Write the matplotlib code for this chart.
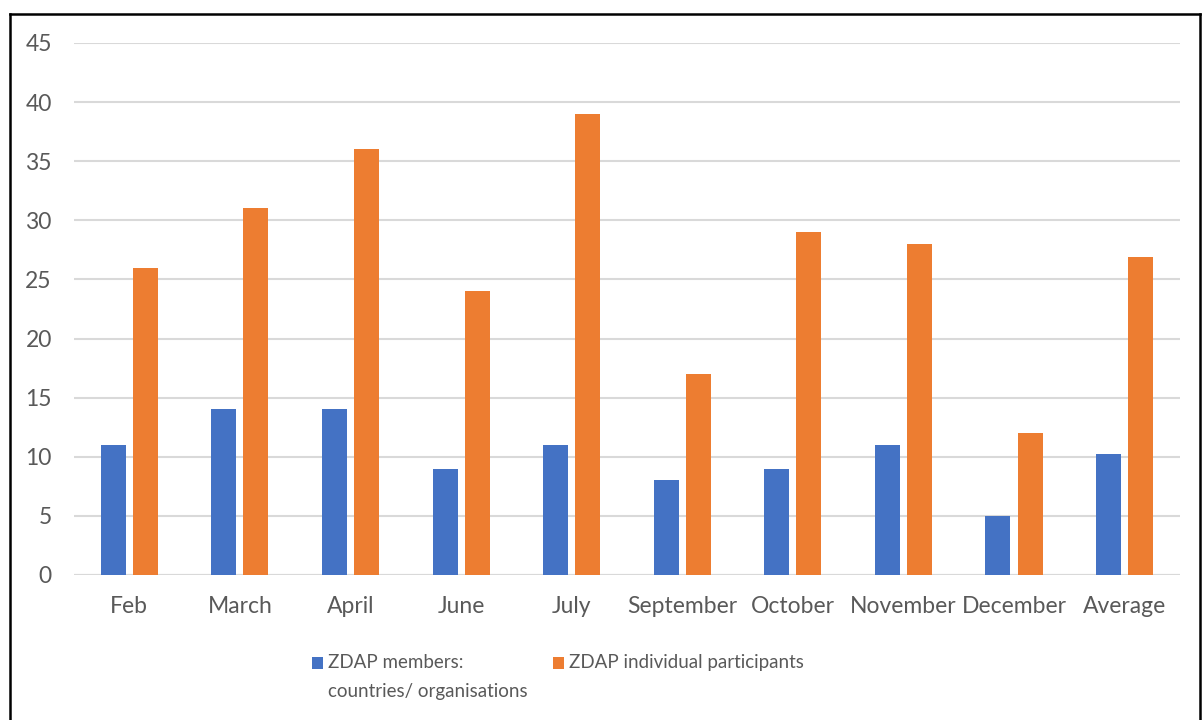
import numpy as np
import matplotlib.pyplot as plt
from matplotlib.lines import Line2D

months = ["Feb", "March", "April", "June", "July", "September",
          "October", "November", "December", "Average"]
members = [11, 14, 14, 9, 11, 8, 9, 11, 5, 10.2]
participants = [26, 31, 36, 24, 39, 17, 29, 28, 12, 26.9]

plt.rcParams['font.family'] = ['Lato', 'DejaVu Sans']
text_color = "#595959"
fs = 16.5
legend_fs = 13.5
ls = 1.85

fig = plt.figure(figsize=(12.02, 7.2), dpi=100)
ax = fig.add_axes([0.0616, 0.2014, 0.92, 0.7389])

x = np.arange(len(months))
w = 0.226
ax.bar(x - 0.145, members, w, color="#4472C4", zorder=3,
       label="ZDAP members:\ncountries/ organisations")
ax.bar(x + 0.145, participants, w, color="#ED7D31", zorder=3,
       label="ZDAP individual participants\n ")

ax.set_ylim(0, 45)
ax.set_xlim(-0.5, len(months) - 0.5)
ax.set_yticks(range(0, 46, 5))
ax.set_xticks(x)
ax.set_xticklabels(months)
ax.yaxis.grid(True, color="#D9D9D9", linewidth=1.5, zorder=0)
ax.axhline(0, color="#D9D9D9", linewidth=1.5, zorder=2)
for s in ax.spines.values():
    s.set_visible(False)
ax.tick_params(axis="y", length=0, pad=16, labelsize=fs, labelcolor=text_color)
ax.tick_params(axis="x", length=0, pad=15, labelsize=fs, labelcolor=text_color)

leg = fig.legend(loc="upper left", ncol=2, frameon=False, fontsize=legend_fs,
                 handlelength=0.6, handleheight=0.6, handletextpad=0.28,
                 columnspacing=1.3, labelcolor=text_color, borderaxespad=0,
                 borderpad=0)
leg.set_bbox_to_anchor((312 / 1202, 1 - 654 / 720), transform=fig.transFigure)
for t in leg.get_texts():
    t.set_linespacing(ls)
# squares level with the first line of each label (half a line, in points)
for h in leg.legend_handles:
    h.set_y(h.get_y() + 10.0)

# frame around the figure (bottom edge cut off)
lx, rx, ty = 10 / 1202, 1200 / 1202, 1 - 14 / 720
for xs, ys in [([lx, lx], [0, ty]), ([lx, rx], [ty, ty]), ([rx, rx], [ty, 0])]:
    fig.add_artist(Line2D(xs, ys, color="black", linewidth=1.8,
                          transform=fig.transFigure))

fig.savefig("out.png", dpi=100)
